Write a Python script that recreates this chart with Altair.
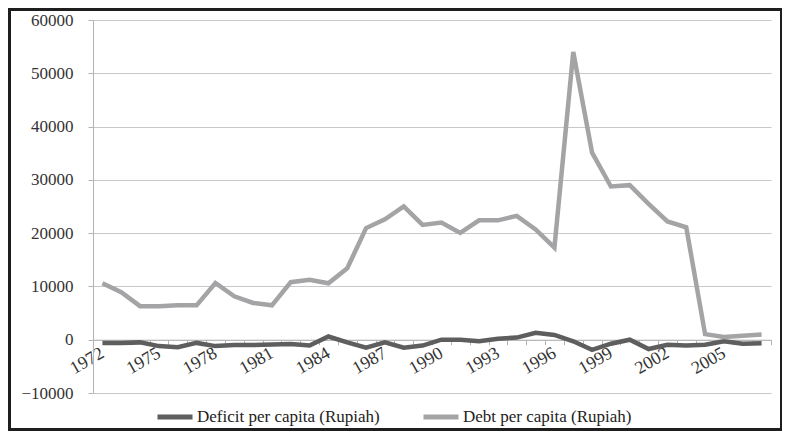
import altair as alt
import pandas as pd

years = list(range(1972, 2008))
deficit = [-600, -600, -500, -1200, -1400, -600, -1200, -1000, -1000, -900,
           -800, -1100, 600, -500, -1500, -500, -1500, -1100, 0, 0,
           -300, 200, 400, 1300, 900, -300, -1900, -750, 0, -1750,
           -950, -1100, -950, -300, -750, -650]
debt = [10600, 8900, 6300, 6300, 6450, 6450, 10650, 8150, 6900, 6450,
        10800, 11250, 10600, 13400, 20950, 22600, 25000, 21550, 22000, 20050,
        22400, 22400, 23250, 20700, 17300, 54000, 35100, 28750, 29000, 25500,
        22200, 21100, 1050, 500, 750, 1000]
series_names = ["Deficit per capita (Rupiah)", "Debt per capita (Rupiah)"]
series_colors = ["#5e5e5e", "#a4a4a6"]
x_labels = [1972, 1975, 1978, 1981, 1984, 1987, 1990, 1993, 1996, 1999, 2002, 2005]
y_ticks = [-10000, 0, 10000, 20000, 30000, 40000, 50000, 60000]

rows = []
for i, y in enumerate(years):
    rows.append({"year": y, "series": series_names[0], "value": deficit[i], "ord": 0})
    rows.append({"year": y, "series": series_names[1], "value": debt[i], "ord": 1})
df = pd.DataFrame(rows)

W, H = 678, 373
ymin, ymax = y_ticks[0], y_ticks[-1]
zero_offset = -H * (0 - ymin) / (ymax - ymin)

half_ticks = [years[0] - 0.5 + k for k in range(len(years) + 1)]
x_values = half_ticks + x_labels

FONT = "Times New Roman, Liberation Serif, DejaVu Serif, serif"
AX = "#b4b4b4"

lines = alt.Chart(df).mark_line(strokeWidth=4.5).encode(
    x=alt.X("year:Q",
            scale=alt.Scale(domain=[years[0] - 0.5, years[-1] + 0.5], nice=False, zero=False),
            axis=alt.Axis(values=x_values, title=None, grid=False, offset=zero_offset,
                          domainColor=AX, tickColor=AX, tickSize=5,
                          tickOpacity={"condition": {"test": "datum.value % 1 != 0", "value": 1}, "value": 0},
                          labelExpr="datum.value % 1 == 0 ? format(datum.value, 'd') : ''",
                          labelAngle=-30, labelAlign="right", labelBaseline="middle",
                          labelFont=FONT, labelFontSize=18, labelColor="#333333",
                          labelOverlap=False, labelPadding=7)),
    y=alt.Y("value:Q",
            scale=alt.Scale(domain=[ymin, ymax], nice=False, zero=False),
            axis=alt.Axis(values=y_ticks, format="d", title=None, grid=True,
                          gridColor="#c8c8c8", domainColor=AX, tickColor=AX, tickSize=5,
                          labelFont=FONT, labelFontSize=17, labelColor="#333333",
                          labelPadding=15)),
    color=alt.Color("series:N",
                    scale=alt.Scale(domain=series_names, range=series_colors),
                    legend=alt.Legend(title=None, orient="none", legendX=62, legendY=377,
                                      direction="horizontal", symbolType="stroke",
                                      symbolSize=1225, symbolStrokeWidth=5,
                                      labelFont=FONT, labelFontSize=17, labelColor="#222222",
                                      labelOffset=2, columnPadding=33, labelLimit=400)),
    order=alt.Order("ord:Q"),
    detail="series:N",
)

frame = alt.Chart(pd.DataFrame({"a": [0]})).mark_rect(
    filled=False, stroke="#1e1e1e", strokeWidth=3
).encode(
    x=alt.value(-83.5), x2=alt.value(W + 10.5),
    y=alt.value(-10.5), y2=alt.value(H + 36.5),
)

chart = alt.layer(lines, frame).properties(
    width=W, height=H,
    autosize=alt.AutoSizeParams(type="none"),
    padding={"left": 85, "top": 12, "right": 11, "bottom": 38},
    background="white",
).configure_view(stroke="transparent")

chart.save("out.html", embed_options={"renderer": "svg", "actions": False})
